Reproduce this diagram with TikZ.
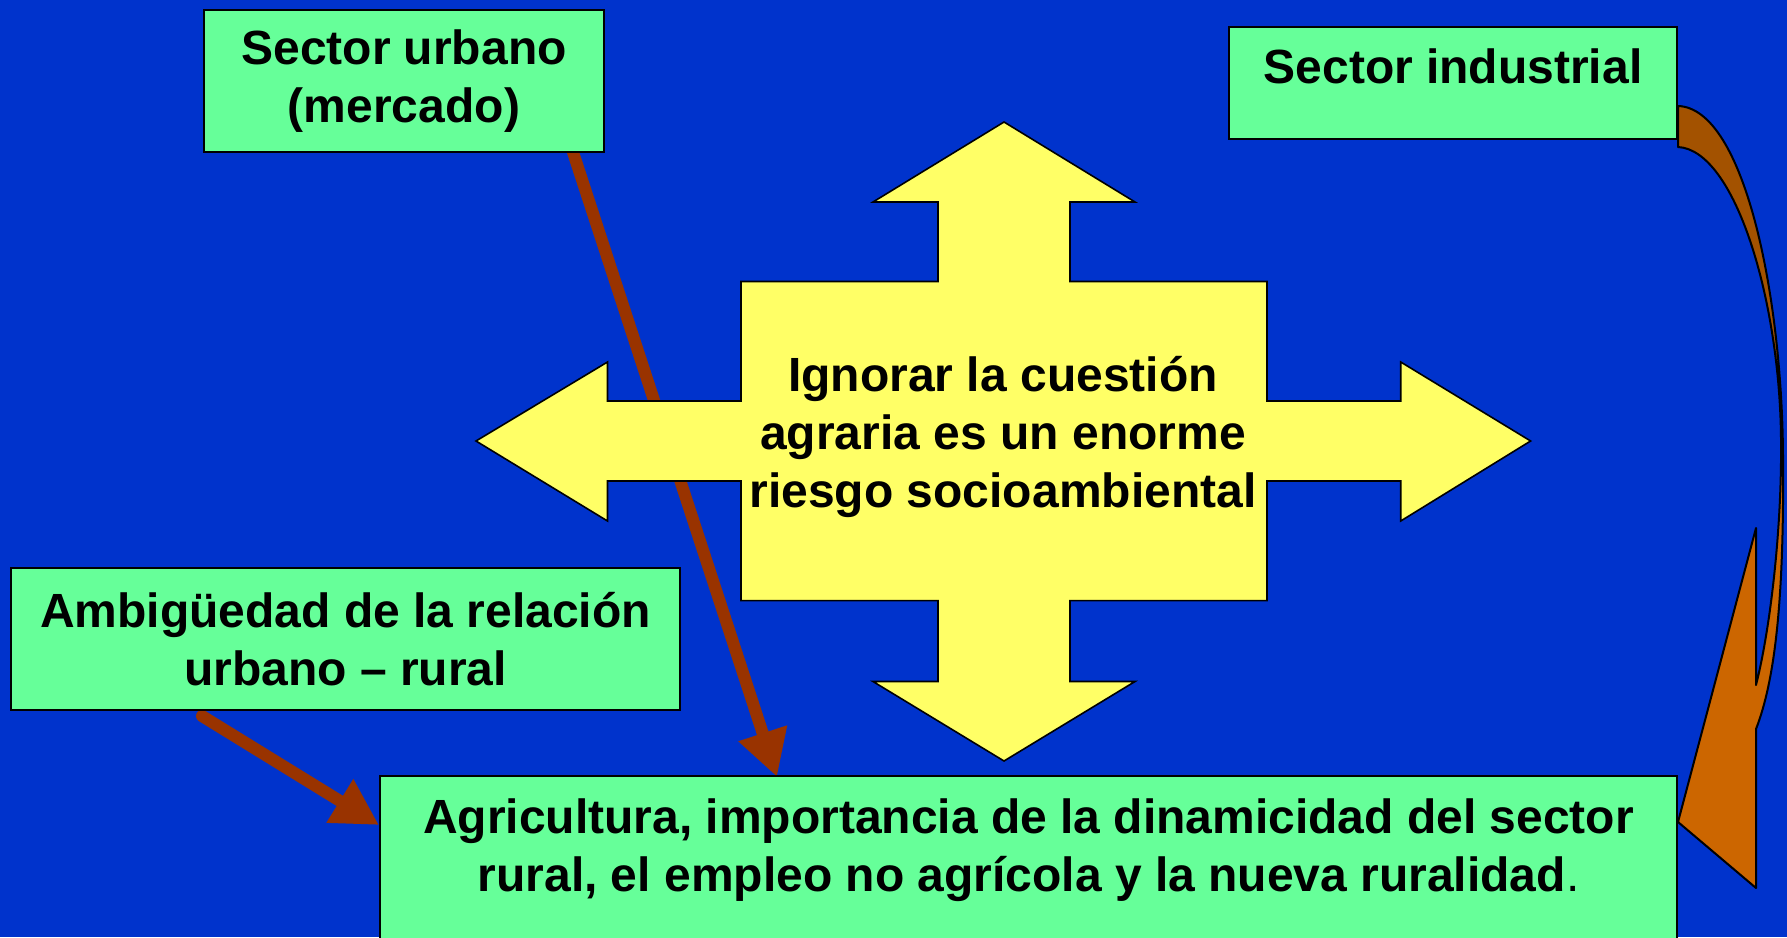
\documentclass[tikz,border=0pt]{standalone}
\usepackage{fontspec}
\setmainfont{Liberation Sans}
\usetikzlibrary{arrows.meta,calc}
\definecolor{bgblue}{HTML}{0033CC}
\definecolor{boxgreen}{HTML}{66FF99}
\definecolor{crossyellow}{HTML}{FFFF66}
\definecolor{arrowbrown}{HTML}{993300}
\definecolor{banddark}{HTML}{A35200}
\definecolor{headorange}{HTML}{CC6600}
\pgfdeclarelayer{bglayer}
\pgfsetlayers{bglayer,main}
\begin{document}
\begin{tikzpicture}[x=0.5pt,y=-0.5pt,
  greenbox/.style={draw=black, line width=1pt, fill=boxgreen,
    font=\bfseries\fontsize{24}{29}\selectfont, align=center, inner sep=0pt},
  crosstext/.style={font=\bfseries\fontsize{24}{29}\selectfont, align=center, inner sep=0pt},
  linkarrow/.style={draw=arrowbrown, line width=6pt,
    -{Triangle[length=23pt,width=24pt]}}]
\useasboundingbox (0,0) rectangle (1787,937);
\clip (0,0) rectangle (1787,937);
\begin{pgfonlayer}{bglayer}
\fill[bgblue] (0,0) rectangle (1787,937);
\end{pgfonlayer}

% cross
\draw[fill=crossyellow, line width=0.8pt, line join=miter]
 (1004,122) -- (1135,202) -- (1070,202) -- (1070,281.5) -- (1267,281.5)
 -- (1267,401) -- (1400.7,401) -- (1400.7,362) -- (1530.6,441)
 -- (1400.7,521) -- (1400.7,481) -- (1267,481) -- (1267,600.6)
 -- (1070,600.6) -- (1070,681.5) -- (1135,681.5) -- (1004,761)
 -- (873,681.5) -- (938,681.5) -- (938,600.6) -- (741,600.6)
 -- (741,481) -- (607.5,481) -- (607.5,521) -- (476,441)
 -- (607.5,362) -- (607.5,401) -- (741,401) -- (741,281.5)
 -- (938,281.5) -- (938,202) -- (873,202) -- cycle;
\node[crosstext] (core) at (1003,437) {Ignorar la cuestión\\agraria es un enorme\\riesgo socioambiental};

% boxes
\node[greenbox, minimum width=200pt, minimum height=71pt] (urb) at (404,81)
  {Sector urbano\\(mercado)};
\node[greenbox, minimum width=224pt, anchor=north, inner ysep=10.5pt,
  text height=17.5pt, text depth=17.5pt] (ind) at (1453,26) {Sector industrial};
\node[greenbox, minimum width=334.5pt, minimum height=71pt] (amb) at (345.5,639)
  {Ambigüedad de la relación\\urbano – rural};
\node[greenbox, minimum width=648.5pt, anchor=north, inner ysep=11.5pt,
  text depth=60pt] (agri) at (1028.5,775)
  {Agricultura, importancia de la dinamicidad del sector\\rural, el empleo no agrícola y la nueva ruralidad\textmd{.}};

% straight arrows (behind)
\begin{pgfonlayer}{bglayer}
\draw[linkarrow] ($(urb.south)+(166,-10)$) -- ($(agri.north west)+(398,2)$);
\draw[linkarrow, line cap=round] ($(amb.south west)+(192,5)$) -- ($(agri.north west)+(0,50)$);
\end{pgfonlayer}

% curved block arrow
\coordinate (c1) at ($(ind.north east)+(0,80)$);
\coordinate (c2) at ($(ind.south east)+(0,7)$);
\coordinate (c3) at ($(agri.north east)+(0,47)$);
\def\curvband{(c1) .. controls (1745,108) and (1783,300) .. (1783,462)
  .. controls (1784,600) and (1775,680) .. (1756,729) -- (1756,888) -- (c3)
  -- (1756,528) -- (1756,685) .. controls (1770,630) and (1782,530) .. (1781,440)
  .. controls (1780,300) and (1735,150) .. (c2) -- cycle}
\fill[headorange] \curvband;
\begin{scope}
\clip (1600,0) rectangle (1787,470);
\fill[banddark] \curvband;
\end{scope}
\draw[black, line width=1pt, line join=round] \curvband;
\end{tikzpicture}
\end{document}
